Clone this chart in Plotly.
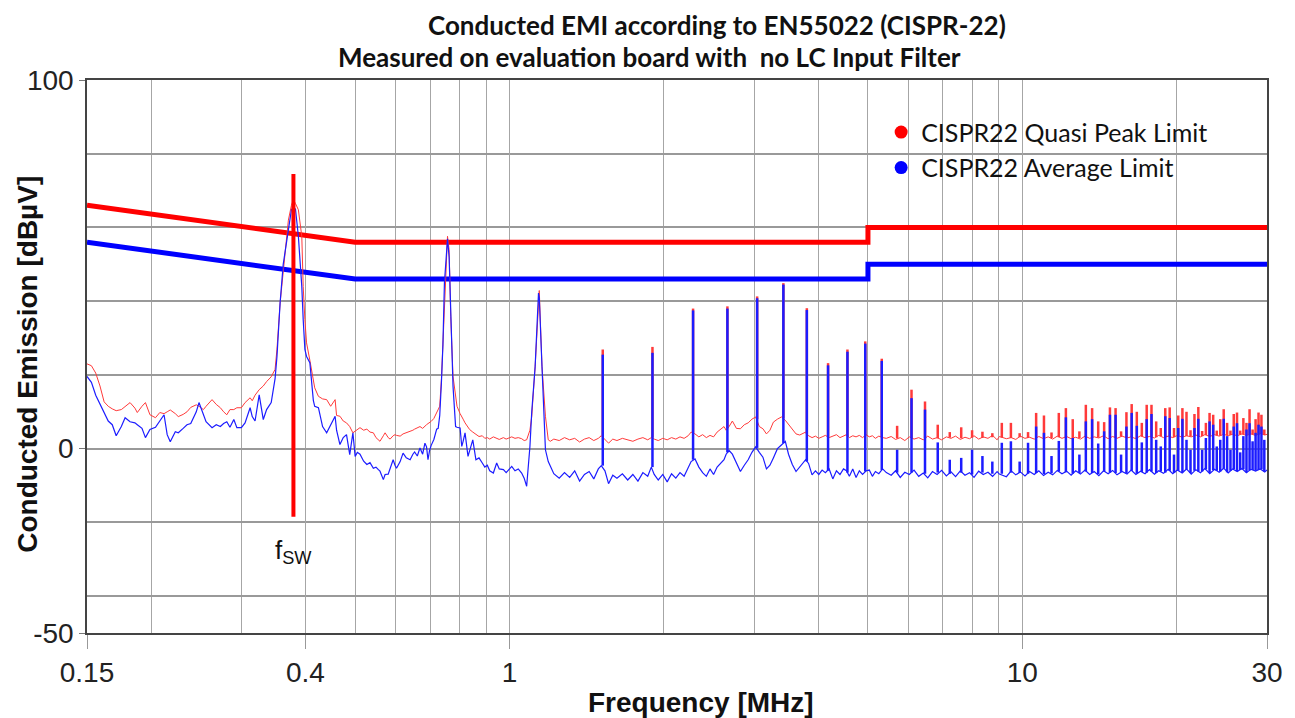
import math
import plotly.graph_objects as go

# ---------------- CISPR-22 limit lines ----------------
limit_mhz = [0.15, 0.5, 5.0, 5.0, 30.0]
qp_limit_db = [66, 56, 56, 60, 60]
avg_limit_db = [56, 46, 46, 50, 50]

# ---------------- measured noise floor ----------------
floor_mhz = [
    0.150, 0.153, 0.156, 0.159, 0.162, 0.165, 0.168, 0.171, 0.175, 0.178,
    0.182, 0.186, 0.188, 0.192, 0.195, 0.199, 0.204, 0.208, 0.212, 0.215,
    0.218, 0.223, 0.226, 0.231, 0.235, 0.239, 0.245, 0.248, 0.253, 0.256,
    0.263, 0.268, 0.273, 0.277, 0.281, 0.285, 0.290, 0.294, 0.300, 0.305,
    0.312, 0.315, 0.319, 0.325, 0.331, 0.336, 0.343, 0.349, 0.352, 0.357,
    0.362, 0.3705, 0.3756, 0.3788, 0.3825, 0.3875, 0.3935, 0.396, 0.399, 0.402,
    0.408, 0.4145, 0.417, 0.424, 0.432, 0.440, 0.448, 0.457, 0.460, 0.467,
    0.474, 0.481, 0.488, 0.495, 0.500, 0.505, 0.511,
    0.5195, 0.527, 0.5345, 0.5426, 0.549, 0.555, 0.559, 0.5675, 0.572, 0.580,
    0.585, 0.593, 0.598, 0.602, 0.612, 0.620, 0.629, 0.640, 0.648, 0.653,
    0.661, 0.669, 0.677, 0.684, 0.689, 0.6935, 0.6985, 0.7035, 0.712, 0.721,
    0.726, 0.731, 0.7365, 0.7415, 0.7466, 0.752, 0.757, 0.7625, 0.765, 0.768,
    0.776, 0.785, 0.790, 0.801, 0.807, 0.812, 0.819, 0.830, 0.836, 0.848,
    0.860, 0.872, 0.885, 0.895, 0.905, 0.915, 0.930, 0.944, 0.955, 0.973,
    0.985, 1.010, 1.025, 1.040, 1.056, 1.068, 1.080, 1.096, 1.105, 1.122,
    1.139, 1.143, 1.157, 1.175, 1.190, 1.201,
    1.22, 1.25, 1.28, 1.31, 1.34, 1.37, 1.40, 1.43, 1.46, 1.49,
    1.51, 1.535, 1.56, 1.59, 1.62, 1.66, 1.70, 1.74, 1.78, 1.82,
    1.86, 1.89, 1.915, 1.95, 1.99, 2.03, 2.07, 2.11, 2.15, 2.19,
    2.23, 2.26, 2.30, 2.34, 2.38, 2.42, 2.46, 2.50, 2.54, 2.58,
    2.62, 2.645, 2.68, 2.72, 2.77, 2.82, 2.87, 2.92, 2.97, 3.02,
    3.07, 3.12, 3.17, 3.22, 3.27, 3.33, 3.39, 3.45, 3.50, 3.56,
    3.62, 3.68, 3.74, 3.78, 3.83, 3.89, 3.95, 4.01, 4.07, 4.13,
    4.20, 4.27, 4.34, 4.41, 4.48, 4.54, 4.60, 4.67, 4.74, 4.81,
    4.88, 4.96, 5.03, 5.10, 5.17, 5.25, 5.34,
    5.43, 5.55, 5.66, 5.78, 5.90, 6.02, 6.15, 6.28, 6.41, 6.54,
    6.68, 6.82, 6.96, 7.11, 7.26, 7.41, 7.57, 7.73, 7.89, 8.05,
    8.22, 8.39, 8.57, 8.75, 8.93, 9.02, 9.31, 9.51, 9.71, 9.91,
    10.12, 10.33, 10.55, 10.77, 11.0, 11.23, 11.46, 11.7, 11.95, 12.2,
    12.45, 12.71, 12.98, 13.25, 13.53, 13.81, 14.1, 14.4, 14.7, 15.0,
    15.3, 15.65, 16.0, 16.3, 16.65, 17.0, 17.35, 17.7, 18.1, 18.45,
    18.85, 19.25, 19.65, 20.05, 20.5, 20.9, 21.35, 21.8, 22.25, 22.7,
    23.2, 23.7, 24.2, 24.7, 25.2, 25.7, 26.25, 26.8, 27.35, 27.9,
    28.5, 29.1, 29.7, 30.0,
]
qp_floor_db = [
    23.0, 22.5, 20.5, 17.0, 12.7, 11.5, 10.8, 10.3, 10.6, 11.5,
    12.5, 11.0, 9.8, 11.5, 12.5, 9.2, 8.4, 9.8, 9.5, 10.0,
    10.5, 9.5, 8.7, 9.3, 10.0, 11.2, 11.9, 11.5, 10.6, 11.5,
    13.3, 12.0, 11.1, 10.0, 9.2, 10.6, 10.6, 11.1, 11.1, 12.5,
    13.8, 13.0, 14.5, 16.0, 17.0, 18.2, 19.5, 21.5, 27.0, 39.5,
    48.5, 62.0, 66.0, 67.5, 66.5, 64.8, 57.6, 44.0, 35.0, 28.7,
    24.0, 18.7, 16.5, 14.2, 13.5, 13.3, 11.5, 13.3, 9.0, 8.8,
    7.5, 7.0, 6.0, 4.3, 4.7, 5.0, 5.7,
    5.0, 5.3, 4.5, 4.3, 3.0, 2.4, 2.0, 3.5, 4.3, 3.0,
    2.6, 3.5, 3.8, 3.6, 3.4, 4.0, 4.3, 4.6, 5.0, 5.3,
    5.6, 6.0, 5.5, 6.2, 6.5, 6.8, 7.0, 7.4, 8.2, 9.7,
    10.5, 11.5, 18.7, 28.0, 40.4, 51.3, 57.6, 54.0, 45.0, 35.9,
    19.6, 14.0, 11.5, 9.5, 8.8, 8.0, 7.0, 6.0, 5.2, 4.5,
    4.0, 3.3, 3.5, 2.8, 3.0, 2.6, 3.2, 2.8, 2.5, 3.0,
    2.6, 3.2, 2.8, 3.0, 2.7, 2.2, 2.4, 5.0, 8.8, 22.3,
    41.5, 42.9, 22.3, 8.8, 2.4, 2.0,
    2.6, 2.2, 3.0, 2.4, 2.8, 1.8, 2.6, 3.0, 2.2, 2.8,
    3.5, 2.4, 1.5, 2.6, 2.2, 2.8, 2.4, 2.0, 2.6, 3.0,
    2.4, 3.0, 2.6, 2.2, 2.8, 2.4, 3.0, 2.6, 3.2, 2.8,
    3.5, 4.5, 4.0, 3.2, 3.8, 3.0, 3.6, 3.2, 4.5, 5.2,
    6.0, 5.0, 6.0, 7.5, 5.5, 5.4, 6.5, 7.0, 8.0, 8.6,
    6.0, 5.4, 4.0, 5.0, 7.2, 8.0, 8.6, 7.7, 6.5, 5.4,
    4.0, 3.7, 4.2, 4.5, 3.5, 3.0, 3.4, 2.8, 3.2, 3.6,
    3.0, 3.3, 3.8, 3.0, 3.4, 3.8, 3.0, 3.5, 3.2, 3.6,
    3.0, 3.8, 3.2, 3.5, 2.8, 3.4, 3.0,
    2.8, 3.3, 2.5, 3.0, 2.2, 3.2, 2.6, 3.0, 2.4, 3.4,
    2.6, 3.0, 2.4, 3.2, 2.8, 3.4, 2.5, 3.1, 2.7, 3.5,
    2.6, 3.2, 2.8, 3.6, 2.4, 3.3, 2.7, 3.0, 2.5, 3.4,
    2.8, 3.1, 2.6, 3.3, 2.7, 3.2, 2.6, 3.4, 2.8, 3.3,
    2.7, 3.1, 2.6, 3.4, 2.8, 3.2, 2.9, 3.5, 2.7, 3.3,
    2.8, 3.4, 2.9, 3.2, 2.7, 3.5, 3.0, 3.3, 2.9, 3.6,
    3.0, 3.4, 3.0, 3.6, 3.1, 3.5, 3.2, 3.7, 3.2, 3.8,
    3.3, 3.8, 3.4, 3.9, 3.5, 3.9, 3.5, 4.0, 3.6, 4.0,
    3.6, 4.1, 3.7, 3.9,
]
avg_floor_db = [
    19.6, 18.0, 14.5, 12.0, 10.0, 7.5, 6.5, 3.5, 6.0, 8.4,
    7.3, 7.0, 6.5, 5.5, 3.0, 5.2, 5.8, 7.5, 9.2, 3.8,
    1.9, 4.6, 4.3, 5.5, 6.5, 6.8, 10.0, 12.5, 9.0, 7.3,
    5.7, 6.5, 6.0, 6.8, 7.3, 5.8, 7.9, 5.7, 5.7, 7.0,
    11.1, 8.7, 7.5, 14.6, 7.9, 10.6, 12.5, 19.0, 25.0, 39.6,
    50.0, 60.0, 64.8, 65.4, 65.0, 57.6, 44.0, 35.0, 26.9, 25.0,
    23.3, 13.0, 11.5, 11.1, 6.0, 4.3, 6.5, 8.8, 5.0, 1.1,
    3.0, 3.8, -1.6, 4.3, -2.1, -1.0, -1.5,
    -3.4, -4.3, -3.8, -5.3, -5.0, -5.7, -6.1, -8.4, -7.0, -6.9,
    -5.5, -3.0, -4.5, -5.3, -3.5, -1.2, -2.5, -3.0, -1.5, -0.9,
    -2.0, 0.2, -1.5, 1.5, 0.5, -3.0, -0.5, 0.9, 2.5, 5.3,
    5.5, 9.0, 17.9, 28.0, 45.0, 52.0, 56.9, 52.0, 45.0, 32.0,
    16.9, 6.0, 5.8, 5.6, 0.6, 2.0, 4.3, -2.1, -0.5, 2.4,
    -3.0, -2.5, -3.9, -5.0, -4.5, -6.0, -6.6, -3.9, -5.5, -5.7,
    -6.5, -4.8, -6.0, -5.5, -6.6, -8.0, -10.2, 0.6, 10.0, 22.3,
    42.2, 41.0, 22.3, -0.3, -3.5, -4.8,
    -6.8, -8.0, -6.5, -7.8, -6.0, -8.8, -7.0, -6.2, -8.2, -5.5,
    -4.6, -6.0, -9.5, -7.2, -8.0, -6.8, -8.5, -7.0, -8.8, -6.5,
    -7.5, -5.0, -7.0, -8.5, -7.0, -9.0, -6.8, -8.0, -6.5, -7.5,
    -5.0, -3.5, -2.8, -5.0, -6.5, -7.5, -5.5, -7.0, -5.0, -4.0,
    -3.0, -1.5, -0.5, -1.5, -4.0, -6.2, -4.5, -3.0, -1.0, 0.5,
    -1.0, -2.3, -5.5, -4.5, -2.5, 0.0, 1.0, 2.0, -1.5, -4.3,
    -6.2, -5.0, -4.0, -3.0, -4.0, -7.1, -6.0, -7.0, -5.8, -6.5,
    -5.5, -8.2, -6.0, -7.0, -5.5, -6.0, -7.5, -5.5, -7.8, -6.0,
    -7.0, -6.0, -5.8, -7.5, -6.2, -6.8, -5.5,
    -6.5, -7.2, -6.0, -7.8, -6.4, -7.0, -5.8, -7.5, -6.6, -7.9,
    -6.2, -7.0, -5.9, -7.4, -6.3, -7.6, -6.0, -7.2, -6.5, -7.8,
    -6.1, -7.0, -6.4, -7.5, -6.2, -6.9, -7.6, -6.0, -7.1, -6.3,
    -7.4, -6.2, -7.0, -6.0, -7.3, -6.4, -7.1, -5.9, -6.8, -6.1,
    -7.2, -6.0, -6.9, -5.8, -7.0, -6.2, -7.3, -6.0, -6.8, -5.9,
    -7.1, -6.2, -6.9, -5.8, -7.0, -6.1, -6.8, -5.7, -6.9, -6.0,
    -6.7, -5.6, -6.8, -5.8, -6.6, -5.5, -6.9, -5.7, -6.5, -5.4,
    -6.8, -5.6, -6.4, -5.3, -6.6, -5.5, -6.2, -5.4, -6.5, -5.6,
    -6.1, -5.5, -6.3, -5.8,
]

# ---------------- switching-frequency harmonics (narrow spikes) ----------------
spike_mhz = [
    1.52, 1.90, 2.28, 2.66, 3.04, 3.42, 3.80, 4.18, 4.56, 4.94,
    5.32, 5.70, 6.08, 6.46, 6.84, 7.22, 7.60, 7.98, 8.36, 8.74,
    9.12, 9.50, 9.88, 10.26, 10.64, 11.02, 11.40, 11.78, 12.16, 12.54,
    12.92, 13.30, 13.68, 14.06, 14.44, 14.82, 15.20, 15.58, 15.96, 16.34,
    16.72, 17.10, 17.48, 17.86, 18.24, 18.62, 19.00, 19.38, 19.76, 20.14,
    20.52, 20.90, 21.28, 21.66, 22.04, 22.42, 22.80, 23.18, 23.56, 23.94,
    24.32, 24.70, 25.08, 25.46, 25.84, 26.22, 26.60, 26.98, 27.36, 27.74,
    28.12, 28.50, 28.88, 29.26, 29.64,
]
qp_spike_db = [
    26.9, 27.6, 38.0, 38.6, 41.3, 44.9, 38.1, 23.2, 26.9, 29.1,
    24.4, 6.2, 16.0, 12.8, 6.5, 4.5, 5.8, 5.0, 4.6, 4.2,
    7.0, 7.0, 4.2, 4.5, 9.7, 9.0, 4.4, 9.7, 11.0, 8.0,
    4.7, 11.9, 11.0, 7.4, 7.2, 11.2, 11.0, 4.7, 9.9, 12.1,
    10.0, 7.0, 11.9, 11.9, 7.4, 5.6, 11.0, 11.2, 5.6, 9.0,
    11.0, 10.0, 5.0, 9.4, 11.3, 4.8, 7.0, 9.7, 9.2, 4.9,
    8.0, 10.7, 7.0, 4.9, 9.4, 9.8, 4.9, 8.3, 7.0, 10.7,
    5.2, 8.0, 9.8, 9.2, 5.2,
]
avg_spike_db = [
    25.5, 26.0, 37.5, 38.0, 40.8, 44.5, 37.6, 22.6, 26.3, 28.5,
    23.8, -0.3, 13.7, 10.6, 1.7, -3.0, -2.5, -0.3, -2.0, -3.5,
    1.6, 2.0, -3.5, 1.6, 6.0, 4.3, -2.0, 2.1, 8.5, 2.9,
    -1.6, 7.4, 8.0, 1.4, 4.7, 9.2, 9.2, -1.6, 6.0, 9.7,
    6.2, 1.7, 8.0, 9.4, 2.4, 0.6, 8.8, 8.3, -1.6, 5.6,
    8.1, 2.4, -0.3, 5.6, 8.1, -0.3, 2.9, 7.4, 6.5, 0.6,
    2.4, 8.1, 3.4, -0.3, 6.0, 6.9, -1.0, 3.4, 5.2, 6.9,
    2.0, 4.3, 6.5, 6.0, 2.4,
]
qp_spike_base_db = [
    3.5, 3.0, 4.3, 5.5, 8.0, 8.2, 4.0, 3.2, 3.4, 3.5,
    3.1, 2.8, 2.9, 2.8, 2.8, 3.0, 2.8, 3.0, 2.9, 3.1,
    3.0, 2.9, 3.1, 2.9, 2.9, 3.0, 2.9, 3.1, 3.0, 2.9,
    2.9, 3.1, 3.0, 3.0, 3.3, 3.0, 3.0, 3.3, 3.0, 3.2,
    2.9, 3.3, 3.1, 3.2, 3.1, 3.4, 3.1, 3.3, 3.1, 3.5,
    3.2, 3.4, 3.3, 3.6, 3.4, 3.4, 3.7, 3.4, 3.7, 3.6,
    3.5, 3.9, 3.6, 3.7, 3.8, 3.6, 3.8, 3.9, 3.6, 3.8,
    3.9, 3.6, 3.8, 4.0, 3.7,
]
avg_spike_base_db = [
    -4.6, -5.0, -3.0, -1.0, 0.2, 1.5, -3.5, -6.0, -6.5, -6.2,
    -5.8, -6.5, -6.5, -6.8, -6.5, -6.8, -6.5, -7.0, -6.5, -6.8,
    -6.8, -6.5, -6.6, -6.8, -6.6, -6.9, -6.7, -6.2, -6.4, -6.8,
    -6.6, -6.2, -6.6, -6.9, -6.2, -6.5, -6.6, -6.3, -6.7, -6.0,
    -6.8, -6.3, -6.5, -6.2, -6.6, -6.2, -6.5, -6.0, -6.6, -6.0,
    -6.4, -5.6, -6.6, -6.0, -6.2, -6.2, -5.6, -6.6, -5.8, -6.0,
    -6.2, -5.4, -6.4, -6.0, -5.6, -6.1, -5.8, -5.6, -6.4, -5.9,
    -5.8, -6.0, -5.8, -5.6, -6.2,
]

# ---------------- switching frequency marker ----------------
fsw_mhz = 0.379
fsw_marker_db = [-18.5, 74.5]

# ---------------- axes ----------------
x_tick_vals = [0.15, 0.4, 1, 10, 30]
x_tick_text = ["0.15", "0.4", "1", "10", "30"]
x_grid_vals = [0.2, 0.3, 0.5, 0.6, 0.7, 0.8, 0.9, 2, 3, 4, 5, 6, 7, 8, 9, 20]
y_tick_vals = [-50, 0, 100]
y_tick_text = ["-50", "0", "100"]
y_grid_vals = [-40, -20, 20, 40, 60, 80]

RED_TRACE = "#ff3a3a"
BLUE_TRACE = "#1c1cff"


def spike_path(freqs, bases, peaks):
    xs, ys = [], []
    for f, b, p in zip(freqs, bases, peaks):
        xs += [f, f, None]
        ys += [b, p, None]
    return xs, ys


fig = go.Figure()

# limit lines
fig.add_trace(go.Scatter(x=limit_mhz, y=qp_limit_db, mode="lines",
                         line=dict(color="#ff0000", width=5), showlegend=False,
                         hoverinfo="skip"))
fig.add_trace(go.Scatter(x=limit_mhz, y=avg_limit_db, mode="lines",
                         line=dict(color="#0000ff", width=5), showlegend=False,
                         hoverinfo="skip"))

# quasi-peak measurement (red)
fig.add_trace(go.Scatter(x=floor_mhz, y=qp_floor_db, mode="lines",
                         line=dict(color=RED_TRACE, width=1), showlegend=False))
sx, sy = spike_path(spike_mhz, qp_spike_base_db, qp_spike_db)
fig.add_trace(go.Scatter(x=sx, y=sy, mode="lines",
                         line=dict(color=RED_TRACE, width=2.5), showlegend=False))

# average measurement (blue)
fig.add_trace(go.Scatter(x=floor_mhz, y=avg_floor_db, mode="lines",
                         line=dict(color=BLUE_TRACE, width=1.2), showlegend=False))
sx, sy = spike_path(spike_mhz, avg_spike_base_db, avg_spike_db)
fig.add_trace(go.Scatter(x=sx, y=sy, mode="lines",
                         line=dict(color=BLUE_TRACE, width=2.5), showlegend=False))

# fsw marker
fig.add_trace(go.Scatter(x=[fsw_mhz, fsw_mhz], y=fsw_marker_db, mode="lines",
                         line=dict(color="#ff0000", width=4), showlegend=False))

# legend entries (dots)
fig.add_trace(go.Scatter(x=[None], y=[None], mode="markers",
                         marker=dict(color="#ff0000", size=13),
                         name="CISPR22 Quasi Peak Limit"))
fig.add_trace(go.Scatter(x=[None], y=[None], mode="markers",
                         marker=dict(color="#0000ff", size=13),
                         name="CISPR22 Average Limit"))

GRID = "#a6a6a6"
TICKFONT = dict(family="Liberation Sans Narrow, Liberation Sans, Arial", size=28, color="#222")
fig.update_xaxes(
    type="log", range=[math.log10(0.15), math.log10(30)],
    tickmode="array", tickvals=x_tick_vals, ticktext=x_tick_text,
    ticks="outside", ticklen=14, tickcolor="#999999",
    tickfont=TICKFONT,
    showgrid=True, gridcolor=GRID, gridwidth=1,
    minor=dict(tickmode="array", tickvals=x_grid_vals, showgrid=True,
               gridcolor=GRID, gridwidth=1, ticks=""),
    showline=True, linecolor="#444444", linewidth=1.5, mirror=True,
    zeroline=False,
)
fig.update_yaxes(
    range=[-50, 100], tickmode="array", tickvals=y_tick_vals, ticktext=y_tick_text,
    ticks="outside", ticklen=6, tickcolor="#777777",
    tickfont=TICKFONT,
    showgrid=True, gridcolor="#999999", gridwidth=1.5,
    minor=dict(tickmode="array", tickvals=y_grid_vals, showgrid=True,
               gridcolor="#999999", gridwidth=1.5, ticks=""),
    showline=True, linecolor="#444444", linewidth=1.5, mirror=True,
    zeroline=False,
)

fig.update_layout(
    width=1287, height=710,
    margin=dict(l=79, r=28, t=72, b=85, autoexpand=False),
    paper_bgcolor="white", plot_bgcolor="white",
    showlegend=True,
    legend=dict(x=0.673, y=0.947, xanchor="left", yanchor="top",
                font=dict(family="Lato, Open Sans, sans-serif", size=25, color="#111"),
                bgcolor="rgba(0,0,0,0)", borderwidth=0),
    annotations=[
        dict(text="<b>Conducted EMI according to EN55022 (CISPR-22)</b>",
             xref="paper", yref="paper", x=0.534, y=1.1, showarrow=False,
             xanchor="center", yanchor="middle", borderpad=0,
             font=dict(family="Lato, Open Sans, sans-serif", size=26, color="#111")),
        dict(text="<b>Measured on evaluation board with  no LC Input Filter</b>",
             xref="paper", yref="paper", x=0.477, y=1.0416, showarrow=False,
             xanchor="center", yanchor="middle", borderpad=0,
             font=dict(family="Lato, Open Sans, sans-serif", size=26, color="#111")),
        dict(text="<b>Conducted Emission [dBµV]</b>", textangle=-90,
             xref="paper", yref="paper", x=-0.05, y=0.485, showarrow=False,
             xanchor="center", yanchor="middle",
             font=dict(family="Liberation Sans, Arial", size=28, color="#111")),
        dict(text="<b>Frequency [MHz]</b>",
             xref="paper", yref="paper", x=0.5203, y=-0.1248, showarrow=False,
             xanchor="center", yanchor="middle",
             font=dict(family="Liberation Sans, Arial", size=28, color="#111")),
        dict(text="f<sub>SW</sub>", xref="x", yref="y",
             x=math.log10(fsw_mhz), y=-28, showarrow=False,
             xanchor="center", yanchor="middle",
             font=dict(family="Liberation Sans Narrow, Liberation Sans, Arial", size=26, color="#111")),
    ],
)

fig.write_html("out.html")
